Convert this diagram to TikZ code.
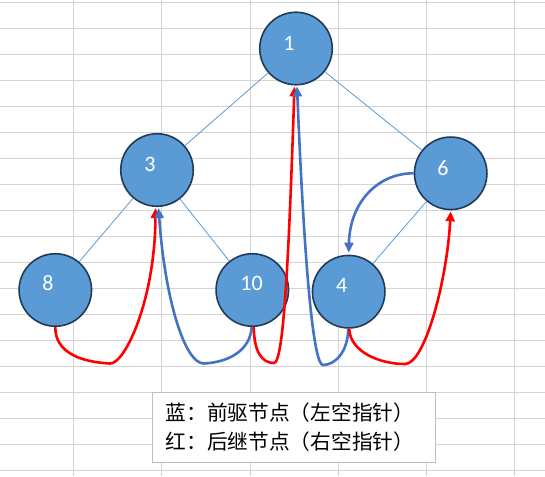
\documentclass[tikz,border=0pt]{standalone}
\usepackage{fontspec}
\setmainfont{Carlito}
\newfontfamily\cjk{Noto Sans CJK SC}
\usetikzlibrary{arrows.meta,calc}
\definecolor{gridgray}{RGB}{212,212,212}
\definecolor{nodefill}{RGB}{91,155,213}
\definecolor{nodeline}{RGB}{33,58,88}
\definecolor{treeline}{RGB}{91,155,213}
\definecolor{predblue}{RGB}{68,114,196}
\definecolor{succred}{RGB}{255,0,0}
\definecolor{boxgray}{RGB}{191,191,191}
\tikzset{
  gridline/.style={draw=gridgray,line width=0.9pt},
  treenode/.style={circle,fill=nodefill,draw=nodeline,line width=1.6pt,minimum size=72.5pt,inner sep=0pt},
  numtext/.style={text=white,font=\fontsize{22}{22}\selectfont,inner sep=0pt},
  treeedge/.style={draw=treeline,line width=0.8pt},
  predarrow/.style={draw=predblue,line width=2.6pt,-{Triangle[length=10pt,width=9pt]}},
  succarrow/.style={draw=succred,line width=2.6pt,-{Triangle[length=10pt,width=9pt]}},
  legendbox/.style={draw=boxgray,fill=white,line width=0.9pt,minimum width=283pt,minimum height=70pt,inner sep=0pt},
  legendtext/.style={font=\cjk\fontsize{20.7}{20.7}\selectfont,inner sep=0pt,anchor=west}
}
\begin{document}
\begin{tikzpicture}[x=1pt,y=-1pt]
\useasboundingbox (0,0) rectangle (545,476);
\fill[white] (0,0) rectangle (545,476);
% spreadsheet grid
\foreach \gx in {73.3,161.7,250,338.3,426,514}
  \draw[gridline] (\gx,0) -- (\gx,476);
\foreach \k in {0,...,18}
  \draw[gridline] (0,{2.7+25.97*\k}) -- (545,{2.7+25.97*\k});
% nodes
\node[treenode] (n1) at (296,48.5) {};
\node[treenode] (n3) at (157,170) {};
\node[treenode] (n6) at (450.7,173.3) {};
\node[treenode] (n8) at (55.3,290) {};
\node[treenode] (n10) at (252.3,290) {};
\node[treenode] (n4) at (348.7,291.7) {};
% tree edges
\path[treeedge] (n1) -- (n3);
\path[treeedge] (n1) -- (n6);
\path[treeedge] (n3) -- (n8);
\path[treeedge] (n3) -- (n10);
\path[treeedge] (n6) -- (n4);
% labels
\node[numtext] (t1) at (289,43) {1};
\node[numtext] (t3) at (150,164) {3};
\node[numtext] (t6) at (443,168) {6};
\node[numtext] (t8) at (48,283) {8};
\node[numtext] (t10) at (251.5,283) {10};
\node[numtext] (t4) at (341.7,285.7) {4};
% predecessor (blue) and successor (red) threads
\draw[succarrow] (n8.south) .. controls (55,352) and (80,362) .. (110,363.5)
  .. controls (125,364) and (155,300) .. ($(n3.south)+(-1.5,1)$);
\draw[predarrow] ($(n10.south)+(-0.5,0)$) .. controls (250,350) and (230,362) .. (204,363.5)
  .. controls (185,364) and (165,300) .. ($(n3.south)+(1.5,1)$);
\draw[succarrow] ($(n10.south)+(1.5,0)$) .. controls (254,352) and (262,363) .. (274,363)
  .. controls (284,363) and (289,250) .. ($(n1.south)+(-1.5,1)$);
\draw[predarrow] ($(n4.south)+(-0.5,0)$) .. controls (348,352) and (335,365) .. (323,365)
  .. controls (314,365) and (305,280) .. ($(n1.south)+(1,1)$);
\draw[succarrow] ($(n4.south)+(0.5,0)$) .. controls (350,352) and (380,364) .. (405,364)
  .. controls (425,364) and (447,280) .. ($(n6.south)+(0,1)$);
\draw[predarrow] (n6.west) .. controls (380,173) and (350,200) .. ($(n4.north)+(0,-2)$);
% legend
\node[legendbox] (legend) at (294.3,427.7) {};
\node[legendtext] (l1) at (165.5,413) {蓝：前驱节点（左空指针）};
\node[legendtext] (l2) at (165.5,441.7) {红：后继节点（右空指针）};
\end{tikzpicture}
\end{document}
